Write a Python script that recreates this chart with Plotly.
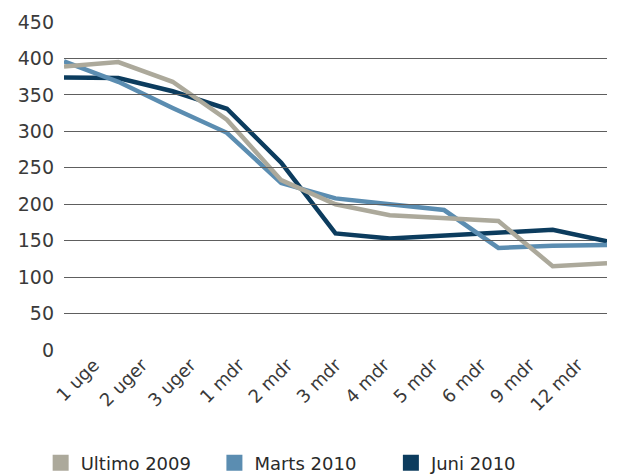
import plotly.graph_objects as go

categories = ["1 uge", "2 uger", "3 uger", "1 mdr", "2 mdr", "3 mdr", "4 mdr", "5 mdr", "6 mdr", "9 mdr", "12 mdr"]
ultimo_2009 = [389, 395, 368, 316, 233, 200, 185, 181, 177, 115, 119]
marts_2010 = [396, 368, 332, 298, 229, 208, 200, 192, 140, 143, 144]
juni_2010 = [374, 373, 355, 331, 257, 160, 153, 157, 160, 165, 149]
series_names = ["Ultimo 2009", "Marts 2010", "Juni 2010"]
series_colors = ["#aca99b", "#5b8db1", "#0c3c5e"]
y_ticks = [0, 50, 100, 150, 200, 250, 300, 350, 400, 450]

series_values = [ultimo_2009, marts_2010, juni_2010]

fig = go.Figure()
# draw order: Juni, Marts, Ultimo (grey on top as in the reference)
for idx in [2, 1, 0]:
    fig.add_trace(go.Scatter(x=categories, y=series_values[idx], mode="lines", name=series_names[idx],
                             line=dict(color=series_colors[idx], width=4.5), showlegend=False))

legend_ids = ["legend", "legend2", "legend3"]
legend_x = [-0.043, 0.277, 0.602]
for name, col, lid in zip(series_names, series_colors, legend_ids):
    fig.add_trace(go.Scatter(x=[None], y=[None], mode="markers", name=name, legend=lid,
                             marker=dict(symbol="square", size=20, color=col)))

# category axis used only for the rotated tick labels
fig.add_trace(go.Scatter(x=categories, y=[None] * len(categories), xaxis="x2", mode="lines",
                         showlegend=False, hoverinfo="skip"))

leg_common = dict(orientation="h", y=-0.3445, yanchor="middle", xanchor="left",
                  font=dict(size=18, color="#2a2a2a"), itemwidth=30, bgcolor="rgba(0,0,0,0)")

fig.update_layout(
    width=610, height=467,
    margin=dict(l=56, r=11, t=14, b=125, autoexpand=False),
    paper_bgcolor="white", plot_bgcolor="rgba(0,0,0,0)",
    font=dict(family="DejaVu Sans", size=18, color="#3a3a3a"),
    showlegend=True,
    legend=dict(x=legend_x[0], **leg_common),
    legend2=dict(x=legend_x[1], **leg_common),
    legend3=dict(x=legend_x[2], **leg_common),
    xaxis=dict(type="category", categoryorder="array", categoryarray=categories,
               range=[0, len(categories) - 1], showticklabels=False, showgrid=False,
               showline=False, ticks="", automargin=False),
    xaxis2=dict(type="category", categoryorder="array", categoryarray=categories,
                range=[0, len(categories) - 1], domain=[0.055, 0.946], anchor="free", position=0,
                tickangle=-45, showgrid=False, showline=False, ticks="", automargin=False,
                ticklabelstandoff=0, tickfont=dict(size=18, color="#3a3a3a")),
    yaxis=dict(range=[0, 450], tickvals=y_ticks, showgrid=True, gridcolor="#5e5e5e",
               gridwidth=1.4, zeroline=False, showline=False, ticks="", ticklabelstandoff=9,
               automargin=False, tickfont=dict(size=19, color="#3a3a3a")),
)
fig.write_html("out.html")
